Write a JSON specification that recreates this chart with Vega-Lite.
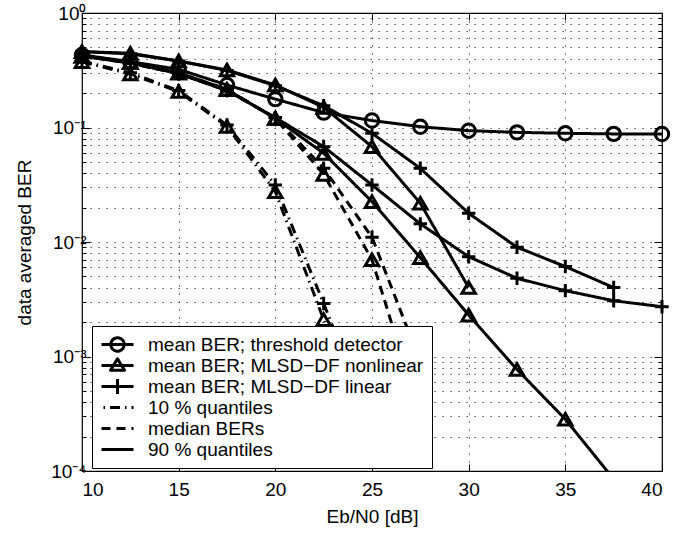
{
  "$schema": "https://vega.github.io/schema/vega-lite/v6.json",
  "width": 580,
  "height": 458,
  "autosize": {"type": "none"},
  "padding": {"left": 82, "top": 13, "right": 26, "bottom": 65},
  "background": "white",
  "config": {
    "font": "Liberation Sans",
    "view": {"stroke": "black", "strokeWidth": 1.2},
    "axis": {
      "domain": false,
      "grid": true,
      "gridColor": "black",
      "gridDash": [1.2, 6.8],
      "gridOpacity": 0.85,
      "gridWidth": 1,
      "tickColor": "black",
      "tickWidth": 1,
      "labelColor": "black",
      "titleColor": "black",
      "labelFont": "Liberation Sans",
      "titleFont": "Liberation Sans",
      "labelFontSize": 19,
      "titleFontSize": 19,
      "titleFontWeight": "normal"
    }
  },
  "data": {
    "values": [
      {"x": 10, "ber": 0.43, "leg": "mean BER; threshold detector", "det": "threshold"},
      {"x": 12.5, "ber": 0.376, "leg": "mean BER; threshold detector", "det": "threshold"},
      {"x": 15, "ber": 0.322, "leg": "mean BER; threshold detector", "det": "threshold"},
      {"x": 17.5, "ber": 0.235, "leg": "mean BER; threshold detector", "det": "threshold"},
      {"x": 20, "ber": 0.177, "leg": "mean BER; threshold detector", "det": "threshold"},
      {"x": 22.5, "ber": 0.135, "leg": "mean BER; threshold detector", "det": "threshold"},
      {"x": 25, "ber": 0.115, "leg": "mean BER; threshold detector", "det": "threshold"},
      {"x": 27.5, "ber": 0.1016, "leg": "mean BER; threshold detector", "det": "threshold"},
      {"x": 30, "ber": 0.0938, "leg": "mean BER; threshold detector", "det": "threshold"},
      {"x": 32.5, "ber": 0.0907, "leg": "mean BER; threshold detector", "det": "threshold"},
      {"x": 35, "ber": 0.089, "leg": "mean BER; threshold detector", "det": "threshold"},
      {"x": 37.5, "ber": 0.0879, "leg": "mean BER; threshold detector", "det": "threshold"},
      {"x": 40, "ber": 0.0877, "leg": "mean BER; threshold detector", "det": "threshold"},

      {"x": 10, "ber": 0.42, "leg": "mean BER; MLSD−DF nonlinear", "det": "nonlinear"},
      {"x": 12.5, "ber": 0.37, "leg": "mean BER; MLSD−DF nonlinear", "det": "nonlinear"},
      {"x": 15, "ber": 0.3, "leg": "mean BER; MLSD−DF nonlinear", "det": "nonlinear"},
      {"x": 17.5, "ber": 0.215, "leg": "mean BER; MLSD−DF nonlinear", "det": "nonlinear"},
      {"x": 20, "ber": 0.12, "leg": "mean BER; MLSD−DF nonlinear", "det": "nonlinear"},
      {"x": 22.5, "ber": 0.0595, "leg": "mean BER; MLSD−DF nonlinear", "det": "nonlinear"},
      {"x": 25, "ber": 0.0225, "leg": "mean BER; MLSD−DF nonlinear", "det": "nonlinear"},
      {"x": 27.5, "ber": 0.0073, "leg": "mean BER; MLSD−DF nonlinear", "det": "nonlinear"},
      {"x": 30, "ber": 0.0023, "leg": "mean BER; MLSD−DF nonlinear", "det": "nonlinear"},
      {"x": 32.5, "ber": 0.00077, "leg": "mean BER; MLSD−DF nonlinear", "det": "nonlinear"},
      {"x": 35, "ber": 0.000283, "leg": "mean BER; MLSD−DF nonlinear", "det": "nonlinear"},
      {"x": 37.5, "ber": 0.000085, "leg": "mean BER; MLSD−DF nonlinear", "det": "nonlinear"},

      {"x": 10, "ber": 0.42, "leg": "mean BER; MLSD−DF linear", "det": "linear"},
      {"x": 12.5, "ber": 0.365, "leg": "mean BER; MLSD−DF linear", "det": "linear"},
      {"x": 15, "ber": 0.295, "leg": "mean BER; MLSD−DF linear", "det": "linear"},
      {"x": 17.5, "ber": 0.21, "leg": "mean BER; MLSD−DF linear", "det": "linear"},
      {"x": 20, "ber": 0.122, "leg": "mean BER; MLSD−DF linear", "det": "linear"},
      {"x": 22.5, "ber": 0.068, "leg": "mean BER; MLSD−DF linear", "det": "linear"},
      {"x": 25, "ber": 0.0315, "leg": "mean BER; MLSD−DF linear", "det": "linear"},
      {"x": 27.5, "ber": 0.0144, "leg": "mean BER; MLSD−DF linear", "det": "linear"},
      {"x": 30, "ber": 0.00744, "leg": "mean BER; MLSD−DF linear", "det": "linear"},
      {"x": 32.5, "ber": 0.00482, "leg": "mean BER; MLSD−DF linear", "det": "linear"},
      {"x": 35, "ber": 0.00376, "leg": "mean BER; MLSD−DF linear", "det": "linear"},
      {"x": 37.5, "ber": 0.00307, "leg": "mean BER; MLSD−DF linear", "det": "linear"},
      {"x": 40, "ber": 0.00272, "leg": "mean BER; MLSD−DF linear", "det": "linear"},

      {"x": 10, "ber": 0.375, "leg": "10 % quantiles", "det": "nonlinear"},
      {"x": 12.5, "ber": 0.293, "leg": "10 % quantiles", "det": "nonlinear"},
      {"x": 15, "ber": 0.206, "leg": "10 % quantiles", "det": "nonlinear"},
      {"x": 17.5, "ber": 0.102, "leg": "10 % quantiles", "det": "nonlinear"},
      {"x": 20, "ber": 0.0275, "leg": "10 % quantiles", "det": "nonlinear"},
      {"x": 22.5, "ber": 0.0021, "leg": "10 % quantiles", "det": "nonlinear"},
      {"x": 25, "ber": 0.00015, "leg": "10 % quantiles", "det": "nonlinear"},

      {"x": 10, "ber": 0.38, "leg": "10 % quantiles", "det": "linear"},
      {"x": 12.5, "ber": 0.3, "leg": "10 % quantiles", "det": "linear"},
      {"x": 15, "ber": 0.21, "leg": "10 % quantiles", "det": "linear"},
      {"x": 17.5, "ber": 0.105, "leg": "10 % quantiles", "det": "linear"},
      {"x": 20, "ber": 0.0315, "leg": "10 % quantiles", "det": "linear"},
      {"x": 22.5, "ber": 0.0029, "leg": "10 % quantiles", "det": "linear"},
      {"x": 25, "ber": 0.00025, "leg": "10 % quantiles", "det": "linear"},

      {"x": 10, "ber": 0.42, "leg": "median BERs", "det": "nonlinear"},
      {"x": 12.5, "ber": 0.37, "leg": "median BERs", "det": "nonlinear"},
      {"x": 15, "ber": 0.3, "leg": "median BERs", "det": "nonlinear"},
      {"x": 17.5, "ber": 0.215, "leg": "median BERs", "det": "nonlinear"},
      {"x": 20, "ber": 0.12, "leg": "median BERs", "det": "nonlinear"},
      {"x": 22.5, "ber": 0.039, "leg": "median BERs", "det": "nonlinear"},
      {"x": 25, "ber": 0.007, "leg": "median BERs", "det": "nonlinear"},
      {"x": 27.5, "ber": 0.0003, "leg": "median BERs", "det": "nonlinear"},

      {"x": 10, "ber": 0.42, "leg": "median BERs", "det": "linear"},
      {"x": 12.5, "ber": 0.365, "leg": "median BERs", "det": "linear"},
      {"x": 15, "ber": 0.295, "leg": "median BERs", "det": "linear"},
      {"x": 17.5, "ber": 0.21, "leg": "median BERs", "det": "linear"},
      {"x": 20, "ber": 0.122, "leg": "median BERs", "det": "linear"},
      {"x": 22.5, "ber": 0.044, "leg": "median BERs", "det": "linear"},
      {"x": 25, "ber": 0.011, "leg": "median BERs", "det": "linear"},
      {"x": 27.5, "ber": 0.0009, "leg": "median BERs", "det": "linear"},

      {"x": 10, "ber": 0.46, "leg": "90 % quantiles", "det": "nonlinear"},
      {"x": 12.5, "ber": 0.445, "leg": "90 % quantiles", "det": "nonlinear"},
      {"x": 15, "ber": 0.381, "leg": "90 % quantiles", "det": "nonlinear"},
      {"x": 17.5, "ber": 0.318, "leg": "90 % quantiles", "det": "nonlinear"},
      {"x": 20, "ber": 0.235, "leg": "90 % quantiles", "det": "nonlinear"},
      {"x": 22.5, "ber": 0.15, "leg": "90 % quantiles", "det": "nonlinear"},
      {"x": 25, "ber": 0.068, "leg": "90 % quantiles", "det": "nonlinear"},
      {"x": 27.5, "ber": 0.0218, "leg": "90 % quantiles", "det": "nonlinear"},
      {"x": 30, "ber": 0.004, "leg": "90 % quantiles", "det": "nonlinear"},

      {"x": 10, "ber": 0.46, "leg": "90 % quantiles", "det": "linear"},
      {"x": 12.5, "ber": 0.44, "leg": "90 % quantiles", "det": "linear"},
      {"x": 15, "ber": 0.38, "leg": "90 % quantiles", "det": "linear"},
      {"x": 17.5, "ber": 0.315, "leg": "90 % quantiles", "det": "linear"},
      {"x": 20, "ber": 0.232, "leg": "90 % quantiles", "det": "linear"},
      {"x": 22.5, "ber": 0.155, "leg": "90 % quantiles", "det": "linear"},
      {"x": 25, "ber": 0.089, "leg": "90 % quantiles", "det": "linear"},
      {"x": 27.5, "ber": 0.044, "leg": "90 % quantiles", "det": "linear"},
      {"x": 30, "ber": 0.0178, "leg": "90 % quantiles", "det": "linear"},
      {"x": 32.5, "ber": 0.009, "leg": "90 % quantiles", "det": "linear"},
      {"x": 35, "ber": 0.0061, "leg": "90 % quantiles", "det": "linear"},
      {"x": 37.5, "ber": 0.004, "leg": "90 % quantiles", "det": "linear"}
    ]
  },
  "resolve": {"axis": {"x": "independent", "y": "independent"}},
  "layer": [
    {
      "mark": {"type": "line", "clip": true, "color": "black"},
      "encoding": {
        "x": {
          "field": "x", "type": "quantitative",
          "scale": {"domain": [10, 40], "nice": false, "zero": false},
          "axis": {
            "values": [10, 15, 20, 25, 30, 35, 40],
            "tickSize": -7,
            "labelPadding": 16,
            "title": "Eb/N0 [dB]",
            "titlePadding": 8
          }
        },
        "y": {
          "field": "ber", "type": "quantitative",
          "scale": {"type": "log", "domain": [0.0001, 1], "nice": false},
          "axis": {
            "values": [0.0001,0.0002,0.0003,0.0004,0.0005,0.0006,0.0007,0.0008,0.0009,0.001,0.002,0.003,0.004,0.005,0.006,0.007,0.008,0.009,0.01,0.02,0.03,0.04,0.05,0.06,0.07,0.08,0.09,0.1,0.2,0.3,0.4,0.5,0.6,0.7,0.8,0.9,1],
            "labelExpr": "datum.value == 1 ? '10⁰' : datum.value == 0.1 ? '10⁻¹' : datum.value == 0.01 ? '10⁻²' : datum.value == 0.001 ? '10⁻³' : datum.value == 0.0001 ? '10⁻⁴' : ''",
            "tickSize": {"condition": {"test": "indexof([1, 0.1, 0.01, 0.001, 0.0001], datum.value) >= 0", "value": -8}, "value": -4},
            "labelPadding": 4,
            "labelOverlap": false,
            "labelFlush": false,
            "labelBaseline": "middle",
            "title": "data averaged BER",
            "titlePadding": 16
          }
        },
        "detail": {"field": "det"},
        "strokeDash": {
          "field": "leg", "type": "nominal",
          "scale": {
            "domain": ["mean BER; threshold detector", "mean BER; MLSD−DF nonlinear", "mean BER; MLSD−DF linear", "10 % quantiles", "median BERs", "90 % quantiles"],
            "range": [[1, 0], [1, 0], [1, 0], [10, 5, 1.5, 5], [9, 6], [1, 0]]
          },
          "legend": {
            "orient": "none",
            "legendX": 10,
            "legendY": 313,
            "title": null,
            "labelFontSize": 19,
            "labelFont": "Liberation Sans",
            "labelColor": "black",
            "labelLimit": 400,
            "labelOffset": 27,
            "symbolSize": 324,
            "symbolType": "stroke",
            "symbolStrokeColor": "black",
            "symbolStrokeWidth": 1,
            "strokeColor": "black",
            "fillColor": "white",
            "padding": 8,
            "rowPadding": 0,
            "encode": {
              "symbols": {
                "update": {
                  "shape": {"signal": "datum.value === 'mean BER; threshold detector' ? 'M-1,0H2.556M1.522,0A0.744,0.744 0 1,1 0.034,0A0.744,0.744 0 1,1 1.522,0' : datum.value === 'mean BER; MLSD−DF nonlinear' ? 'M-1,0H2.556M0.778,-0.75L1.556,0.53L0,0.53Z' : datum.value === 'mean BER; MLSD−DF linear' ? 'M-1,0H2.556M0.778,-0.83V0.83' : 'M-1,0H2.556'"},
                  "strokeWidth": {"signal": "indexof(['mean BER; threshold detector', 'mean BER; MLSD−DF nonlinear', 'mean BER; MLSD−DF linear'], datum.value) >= 0 ? 3 : 1"},
                  "strokeDashOffset": {"signal": "datum.value === '10 % quantiles' ? 13 : 0"},
                  "strokeJoin": {"value": "round"},
                  "fill": {"value": "transparent"},
                  "stroke": {"value": "black"}
                }
              }
            }
          }
        },
        "strokeWidth": {
          "field": "leg", "type": "nominal",
          "scale": {
            "domain": ["mean BER; threshold detector", "mean BER; MLSD−DF nonlinear", "mean BER; MLSD−DF linear", "10 % quantiles", "median BERs", "90 % quantiles"],
            "range": [3, 3, 3, 1, 1, 1]
          },
          "legend": null
        }
      }
    },
    {
      "transform": [{"filter": "datum.ber >= 0.0001"}],
      "mark": {"type": "point", "filled": false, "color": "black", "size": 180, "opacity": 1},
      "encoding": {
        "x": {
          "field": "x", "type": "quantitative",
          "axis": {"orient": "top", "values": [10, 15, 20, 25, 30, 35, 40], "labels": false, "grid": false, "title": null, "tickSize": -7}
        },
        "y": {
          "field": "ber", "type": "quantitative",
          "axis": {
            "orient": "right",
            "values": [0.0001,0.0002,0.0003,0.0004,0.0005,0.0006,0.0007,0.0008,0.0009,0.001,0.002,0.003,0.004,0.005,0.006,0.007,0.008,0.009,0.01,0.02,0.03,0.04,0.05,0.06,0.07,0.08,0.09,0.1,0.2,0.3,0.4,0.5,0.6,0.7,0.8,0.9,1],
            "labels": false, "grid": false, "title": null,
            "tickSize": {"condition": {"test": "indexof([1, 0.1, 0.01, 0.001, 0.0001], datum.value) >= 0", "value": -8}, "value": -4}
          }
        },
        "shape": {
          "field": "det", "type": "nominal",
          "scale": {"domain": ["threshold", "nonlinear", "linear"], "range": ["circle", "triangle-up", "M0,-1V1M-1,0H1"]},
          "legend": null
        },
        "strokeWidth": {"field": "leg", "type": "nominal", "legend": null}
      }
    }
  ]
}
